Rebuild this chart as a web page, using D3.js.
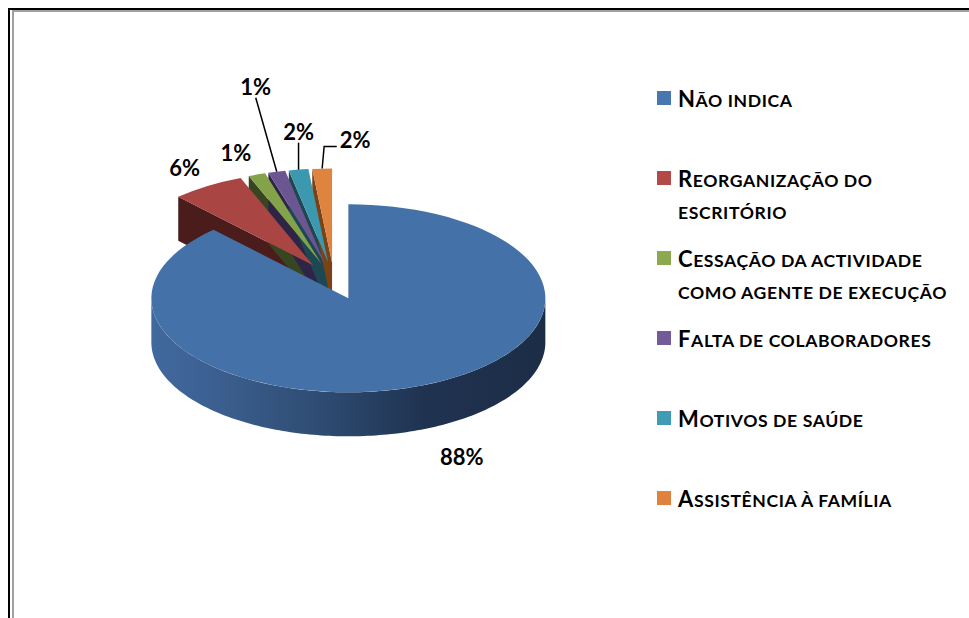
<!DOCTYPE html>
<html>
<head>
<meta charset="utf-8">
<script src="https://cdn.jsdelivr.net/npm/d3@7"></script>
<style>
  body { margin: 0; background: #fff; }
  svg { display: block; }
</style>
</head>
<body>
<div id="chart"></div>
<script>
// data
var categories = ['Não indica', 'Reorganização do escritório', 'Cessação da actividade como agente de execução',
                  'Falta de colaboradores', 'Motivos de saúde', 'Assistência à família'];
var legendLines = [['Não indica'], ['Reorganização do', 'escritório'], ['Cessação da actividade', 'como agente de execução'],
                   ['Falta de colaboradores'], ['Motivos de saúde'], ['Assistência à família']];
var values = [88.0, 6.0, 1.4, 1.4, 1.6, 1.6];

var topColors = ['#4471a7', '#a94543', '#84a24a', '#6c5691', '#3c98af', '#de843f'];
var sideColors = ['#2c4a70', '#4a1c1b', '#374620', '#2e2446', '#1c4753', '#7a4216'];
var swatchColors = ['#4876b0', '#b34a48', '#8ca94f', '#735a98', '#409cb4', '#e0823e'];

// label placement relative to the rim point of each slice
var labelOffsets = [[41, 71], [-23, -18], [-21, -21], [-21, -85], [0, -38], [33, -28]];
var leaderType = ['none', 'none', 'none', 'straight', 'straight', 'elbow'];

var width = 969, height = 618;

var svg = d3.select('#chart').append('svg')
    .attr('width', width)
    .attr('height', height);

svg.append('rect').attr('width', width).attr('height', height).attr('fill', '#fff');

// frame (double line at top-left)
svg.append('rect').attr('x', 8).attr('y', 8).attr('width', 2).attr('height', height).attr('fill', '#000');
svg.append('rect').attr('x', 8).attr('y', 8).attr('width', width).attr('height', 2).attr('fill', '#000');
svg.append('rect').attr('x', 12).attr('y', 10).attr('width', 2).attr('height', height).attr('fill', '#a0a0a0');
svg.append('rect').attr('x', 12).attr('y', 10).attr('width', width).attr('height', 2).attr('fill', '#a0a0a0');

// 3d pie geometry
var cx = 334, cy = 281;       // pie centre before explosion
var rx = 197, k = 94 / 197;   // ellipse radii ratio
var depth = 44, explode = 39;

var pie = d3.pie().sort(null).value(d => d);
var arcs = pie(values);

arcs.forEach(function (a, i) {
  var m = (a.startAngle + a.endAngle) / 2;
  a.cx = cx + explode * Math.sin(m);
  a.cy = cy - explode * Math.cos(m) * k;
  a.mid = m;
  a.i = i;
});

function rim(a, ang, h) {
  return [a.cx + rx * Math.sin(ang), a.cy - rx * k * Math.cos(ang) + (h || 0)];
}

var line = d3.line();

function sampleAngles(a0, a1) {
  var n = Math.max(2, Math.ceil((a1 - a0) / 0.02));
  return d3.range(n + 1).map(j => a0 + (a1 - a0) * j / n);
}

// gradient for the big slice outer wall
var defs = svg.append('defs');
var grad = defs.append('linearGradient').attr('id', 'wallGrad')
    .attr('gradientUnits', 'userSpaceOnUse')
    .attr('x1', 150).attr('x2', 545).attr('y1', 0).attr('y2', 0);
[[0, '#4269a0'], [0.2, '#3a5d8c'], [0.45, '#2d4a70'], [0.7, '#1f3250'], [1, '#1c2d46']].forEach(function (s) {
  grad.append('stop').attr('offset', s[0]).attr('stop-color', s[1]);
});

var gSides = svg.append('g');
var gTops = svg.append('g');

// draw small slices first, big slice last (it is in front)
var order = arcs.slice(1).concat([arcs[0]]);

order.forEach(function (a) {
  var i = a.i;
  // radial start face
  if (Math.sin(a.startAngle) < -1e-6) {
    var p = [[a.cx, a.cy], rim(a, a.startAngle), rim(a, a.startAngle, depth), [a.cx, a.cy + depth]];
    gSides.append('path').attr('d', line(p) + 'Z').attr('fill', sideColors[i]);
  }
  // radial end face
  if (Math.sin(a.endAngle) > 1e-6) {
    var q = [[a.cx, a.cy], rim(a, a.endAngle), rim(a, a.endAngle, depth), [a.cx, a.cy + depth]];
    gSides.append('path').attr('d', line(q) + 'Z').attr('fill', sideColors[i]);
  }
  // outer wall, front half only
  var w0 = Math.max(a.startAngle, Math.PI / 2), w1 = Math.min(a.endAngle, 3 * Math.PI / 2);
  if (w1 > w0) {
    var angs = sampleAngles(w0, w1);
    var pts = angs.map(t => rim(a, t)).concat(angs.slice().reverse().map(t => rim(a, t, depth)));
    gSides.append('path').attr('d', line(pts) + 'Z')
      .attr('fill', i === 0 ? 'url(#wallGrad)' : sideColors[i]);
  }
  // top face
  var arc = d3.arc().innerRadius(0).outerRadius(rx);
  gTops.append('path')
    .attr('transform', 'translate(' + a.cx + ',' + a.cy + ') scale(1,' + k + ')')
    .attr('d', arc(a))
    .attr('fill', topColors[i]);
});

// data labels
var fmt = v => Math.round(v) + '%';
var gLabels = svg.append('g')
    .attr('font-family', 'Lato, "Open Sans", sans-serif')
    .attr('font-weight', 'bold')
    .attr('font-size', 22)
    .attr('fill', '#000');

arcs.forEach(function (a, i) {
  var r = rim(a, a.mid);
  var lx = r[0] + labelOffsets[i][0], ly = r[1] + labelOffsets[i][1];
  var t = gLabels.append('text')
    .attr('x', lx).attr('y', ly).attr('dy', '0.36em')
    .attr('text-anchor', 'middle')
    .text(fmt(values[i]));
  if (leaderType[i] === 'straight') {
    svg.append('path').attr('d', line([[r[0], r[1]], [lx, ly + 11]]))
      .attr('stroke', '#000').attr('stroke-width', 1.5).attr('fill', 'none');
  } else if (leaderType[i] === 'elbow') {
    var bw = t.node().getBBox();
    svg.append('path').attr('d', line([[r[0], r[1]], [r[0] + 2, ly + 6], [bw.x - 3, ly + 6]]))
      .attr('stroke', '#000').attr('stroke-width', 1.5).attr('fill', 'none');
  }
});

// legend, small caps built by hand (lower case -> smaller capitals)
var legendX = 657, legendY = 107, rowStep = 80, lineStep = 32;
var legendFont = 22, smallScale = 0.8;
var gLegend = svg.append('g')
    .attr('font-family', 'Lato, "Open Sans", sans-serif')
    .attr('font-weight', 'bold')
    .attr('font-size', legendFont)
    .attr('letter-spacing', 0.6);

function smallCapRuns(s) {
  var runs = [];
  for (var c of s) {
    var big = c !== c.toLowerCase();
    if (c === ' ' && runs.length) big = runs[runs.length - 1].big;
    if (runs.length && runs[runs.length - 1].big === big) runs[runs.length - 1].text += c;
    else runs.push({ big: big, text: c });
  }
  return runs;
}

legendLines.forEach(function (lines, i) {
  var y = legendY + i * rowStep;
  gLegend.append('rect')
    .attr('x', legendX).attr('y', y - 16)
    .attr('width', 14).attr('height', 14)
    .attr('fill', swatchColors[i]);
  lines.forEach(function (s, j) {
    var t = gLegend.append('text')
      .attr('x', legendX + 21).attr('y', y + j * lineStep)
      .style('white-space', 'pre');
    smallCapRuns(s).forEach(function (r) {
      t.append('tspan')
        .attr('font-size', r.big ? legendFont : legendFont * smallScale)
        .text(r.text.toUpperCase());
    });
  });
});
</script>
</body>
</html>
